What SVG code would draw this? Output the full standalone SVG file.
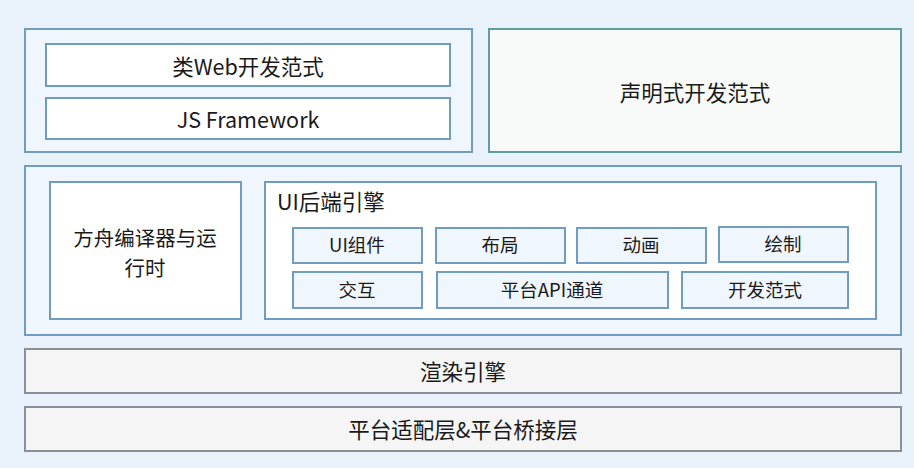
<svg xmlns="http://www.w3.org/2000/svg" width="914" height="468" viewBox="0 0 914 468">
<style>
text{font-family:"Noto Sans CJK SC","Noto Sans",sans-serif;fill:#1a1a1a;text-anchor:middle;dominant-baseline:central}
.c{fill:#f0f6fd;stroke:#6f9cc0;stroke-width:2}
.w{fill:#ffffff;stroke:#6f9cc0;stroke-width:2}
.s{fill:#f0f6fd;stroke:#6f9cc0;stroke-width:2}
.g{fill:#f7faf8;stroke:#5e9e9c;stroke-width:2}
.p{fill:#f5f5f5;stroke:#8a9099;stroke-width:2}
.t18{font-size:21.5px}
.t16{font-size:18.5px}
</style>
<rect width="914" height="468" fill="#e9f1fb"/>
<g id="web-group">
<rect class="c" x="25" y="29" width="447" height="123"/>
</g>
<g id="web">
<rect class="w" x="46" y="44" width="404" height="42"/>
<text class="t18" x="248" y="65">类Web开发范式</text>
</g>
<g id="jsfw">
<rect class="w" x="46" y="98" width="404" height="41"/>
<text class="t18" x="248" y="118">JS Framework</text>
</g>
<g id="declarative">
<rect class="g" x="489" y="29" width="412" height="123"/>
<text class="t18" x="695" y="91">声明式开发范式</text>
</g>
<g id="middle">
<rect class="c" x="25" y="166" width="876" height="169"/>
</g>
<g id="ark">
<rect class="w" x="50" y="182" width="191" height="137"/>
<text x="145" y="237" style="font-size:20.5px">方舟编译器与运</text>
<text x="145" y="267" style="font-size:20.5px">行时</text>
</g>
<g id="ui-backend">
<rect class="w" x="265" y="182" width="611" height="137"/>
<text class="t18" x="277" y="200" style="text-anchor:start">UI后端引擎</text>
</g>
<g id="ui-comp"><rect class="s" x="293" y="228" width="129" height="35"/><text class="t16" x="357" y="244">UI组件</text></g>
<g id="layout"><rect class="s" x="436" y="228" width="129" height="35"/><text class="t16" x="500" y="244">布局</text></g>
<g id="anim"><rect class="s" x="577" y="228" width="129" height="35"/><text class="t16" x="641" y="244">动画</text></g>
<g id="draw"><rect class="s" x="719" y="227" width="129" height="35"/><text class="t16" x="783" y="243">绘制</text></g>
<g id="interact"><rect class="s" x="293" y="272" width="129" height="36"/><text class="t16" x="357" y="289">交互</text></g>
<g id="api"><rect class="s" x="437" y="272" width="231" height="36"/><text class="t16" x="552" y="289">平台API通道</text></g>
<g id="paradigm"><rect class="s" x="682" y="272" width="166" height="36"/><text class="t16" x="765" y="289">开发范式</text></g>
<g id="render">
<rect class="p" x="25" y="349" width="876" height="44"/>
<text class="t18" x="463" y="370">渲染引擎</text>
</g>
<g id="platform">
<rect class="p" x="25" y="407" width="876" height="44"/>
<text class="t18" x="463" y="428">平台适配层&amp;平台桥接层</text>
</g>
<g id="connectors"></g>
</svg>
